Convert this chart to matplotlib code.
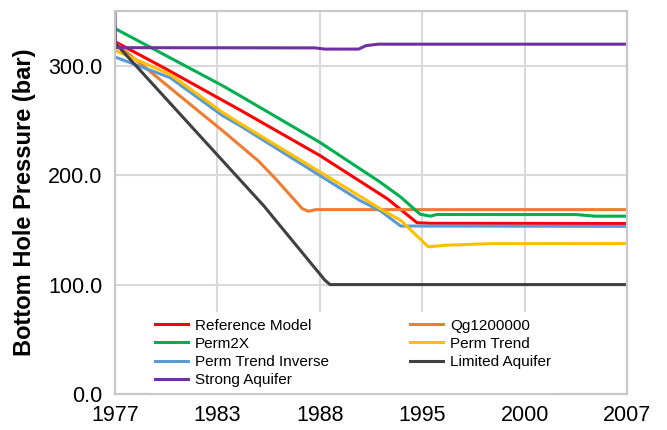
import matplotlib

matplotlib.use("Agg")

import matplotlib.pyplot as plt

plt.rcParams["font.family"] = ["Liberation Sans", "DejaVu Sans"]

# x is measured in tick slots: 0 = 1977, 1 = 1983, ... 5 = 2007 (equally spaced labels)
TICK_LABELS = ["1977", "1983", "1988", "1995", "2000", "2007"]
Y_TICKS = [0, 100, 200, 300]

ref_x = [0, 0.47, 1.0, 1.22, 2.0, 2.66, 2.95, 3.08, 5.0]
ref_y = [322, 298.5, 271, 259.6, 218, 178.4, 156.5, 156, 155.8]

qg_x = [0, 0.83, 1.05, 1.4, 1.56, 1.83, 1.89, 1.96, 5.0]
qg_y = [321, 257.4, 240.7, 213, 197.5, 169.3, 167, 168.5, 168.5]

perm2x_x = [0, 1.05, 1.22, 2.0, 2.59, 2.79, 2.98, 3.08, 3.14, 4.5, 4.69, 5.0]
perm2x_y = [334, 281.8, 272.6, 230, 193.6, 180, 164.3, 162.5, 164, 164, 162.5, 162.5]

trend_x = [0, 0.54, 1.05, 1.22, 2.46, 2.59, 2.79, 3.06, 3.24, 3.67, 5.0]
trend_y = [314, 292, 257.4, 247.4, 176.9, 169.3, 158.7, 134.5, 136, 137.4, 137.5]

inverse_x = [0, 0.54, 1.05, 1.22, 2.39, 2.59, 2.79, 5.0]
inverse_y = [308, 289, 254.4, 245.3, 176.9, 167.5, 153.5, 153.2]

limited_x = [0, 0.96, 1.45, 2.05, 2.1, 5.0]
limited_y = [321, 222.5, 172.3, 104, 100, 100]

strong_x = [0, 0.005, 1.95, 2.05, 2.38, 2.45, 2.57, 5.0]
strong_y = [350, 316.5, 316.3, 315.2, 315.2, 318.3, 319.7, 319.7]

series = [
    ("Reference Model", ref_x, ref_y, "#ff0000"),
    ("Qg1200000", qg_x, qg_y, "#ed7d31"),
    ("Perm2X", perm2x_x, perm2x_y, "#00b050"),
    ("Perm Trend Inverse", inverse_x, inverse_y, "#5b9bd5"),
    ("Perm Trend", trend_x, trend_y, "#ffc000"),
    ("Limited Aquifer", limited_x, limited_y, "#404040"),
    ("Strong Aquifer", strong_x, strong_y, "#7030a0"),
]
legend_order = [
    "Reference Model",
    "Perm2X",
    "Perm Trend Inverse",
    "Strong Aquifer",
    "Qg1200000",
    "Perm Trend",
    "Limited Aquifer",
]


def main():
    fig = plt.figure(figsize=(6.67, 4.30), dpi=100)
    ax = fig.add_axes([0.1724, 0.0837, 0.7676, 0.8907])

    handles = {}
    for name, xs, ys, color in series:
        (line,) = ax.plot(xs, ys, color=color, linewidth=2.2, label=name, solid_joinstyle="round")
        handles[name] = line

    ax.set_xlim(0, len(TICK_LABELS) - 1)
    ax.set_ylim(0, 350)
    ax.set_xticks(range(len(TICK_LABELS)))
    ax.set_xticklabels(TICK_LABELS)
    ax.set_yticks(Y_TICKS)
    ax.set_yticklabels(["%.1f" % v for v in Y_TICKS])
    ax.tick_params(axis="both", length=0, labelsize=15.5, colors="#000000")
    ax.tick_params(axis="y", pad=9)
    ax.tick_params(axis="x", pad=8)

    ax.grid(True, color="#d9d9d9", linewidth=1.5)
    ax.set_axisbelow(True)
    for spine in ax.spines.values():
        spine.set_color("#c8c8c8")
        spine.set_linewidth(1.6)

    ax.set_ylabel("Bottom Hole Pressure (bar)", fontsize=17, fontweight="bold", labelpad=9)

    leg = ax.legend(
        [handles[n] for n in legend_order],
        legend_order,
        ncol=2,
        loc="upper left",
        bbox_to_anchor=(0.066, 0.213),
        borderaxespad=0,
        fontsize=11,
        frameon=True,
        fancybox=False,
        handlelength=2.15,
        handletextpad=0.45,
        columnspacing=5.35,
        labelspacing=0.28,
        borderpad=0.4,
    )
    leg.get_frame().set_facecolor("white")
    leg.get_frame().set_edgecolor("none")
    leg.get_frame().set_alpha(1.0)

    fig.savefig("out.png", dpi=100)
    plt.close(fig)


if __name__ == "__main__":
    main()
